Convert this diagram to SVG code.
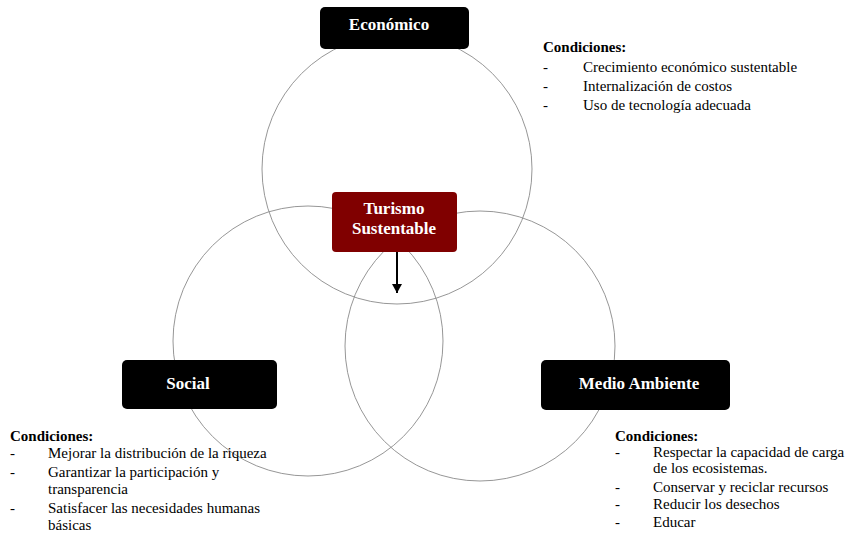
<svg xmlns="http://www.w3.org/2000/svg" width="851" height="540" viewBox="0 0 851 540">
<style>
.c{fill:none;stroke:#8a8a8a;stroke-width:0.9}
.box{fill:#000}
.tt{font-family:"Liberation Serif","Times New Roman",serif;font-weight:bold;fill:#fff;text-anchor:middle;font-size:17px}
.h{font-family:"Liberation Serif","Times New Roman",serif;font-weight:bold;fill:#000;font-size:15px}
.t{font-family:"Liberation Serif","Times New Roman",serif;fill:#000;font-size:15px}
</style>
<defs>
<marker id="ah" markerWidth="10" markerHeight="10" refX="9" refY="5" orient="auto" markerUnits="userSpaceOnUse" viewBox="0 0 10 10">
<path d="M0,0 L9,5 L0,10 Z" fill="#000"/>
</marker>
</defs>
<rect width="851" height="540" fill="#fff"/>
<g id="circles">
<circle class="c" cx="397" cy="169" r="135"/>
<circle class="c" cx="308" cy="341" r="135"/>
<circle class="c" cx="480" cy="346" r="135"/>
</g>
<g id="connectors">
<line x1="397" y1="252" x2="397" y2="293" stroke="#000" stroke-width="2" marker-end="url(#ah)"/>
</g>
<g id="economico">
<rect class="box" x="320" y="7" width="149" height="42" rx="5"/>
<text class="tt" x="389" y="30">Económico</text>
</g>
<g id="turismo">
<rect x="332" y="192" width="125" height="60" rx="4" fill="#800000"/>
<text class="tt" x="394" y="214" font-size="16">Turismo</text>
<text class="tt" x="394" y="234" font-size="16">Sustentable</text>
</g>
<g id="social">
<rect class="box" x="122" y="360" width="155" height="49" rx="5"/>
<text class="tt" x="188" y="389">Social</text>
</g>
<g id="medio">
<rect class="box" x="541" y="360" width="189" height="50" rx="5"/>
<text class="tt" x="639" y="389">Medio Ambiente</text>
</g>
<g id="cond-economico">
<text class="h" x="543" y="52">Condiciones:</text>
<text class="t" x="543" y="72">-</text><text class="t" x="583" y="72">Crecimiento económico sustentable</text>
<text class="t" x="543" y="91">-</text><text class="t" x="583" y="91">Internalización de costos</text>
<text class="t" x="543" y="110">-</text><text class="t" x="583" y="110">Uso de tecnología adecuada</text>
</g>
<g id="cond-social">
<text class="h" x="10" y="441">Condiciones:</text>
<text class="t" x="10" y="458">-</text><text class="t" x="48" y="458">Mejorar la distribución de la riqueza</text>
<text class="t" x="10" y="477">-</text><text class="t" x="48" y="477">Garantizar la participación y</text>
<text class="t" x="48" y="494">transparencia</text>
<text class="t" x="10" y="513">-</text><text class="t" x="48" y="513">Satisfacer las necesidades humanas</text>
<text class="t" x="48" y="530">básicas</text>
</g>
<g id="cond-medio">
<text class="h" x="615" y="441">Condiciones:</text>
<text class="t" x="615" y="457">-</text><text class="t" x="653" y="457">Respectar la capacidad de carga</text>
<text class="t" x="653" y="473">de los ecosistemas.</text>
<text class="t" x="615" y="492">-</text><text class="t" x="653" y="492">Conservar y reciclar recursos</text>
<text class="t" x="615" y="509">-</text><text class="t" x="653" y="509">Reducir los desechos</text>
<text class="t" x="615" y="527">-</text><text class="t" x="653" y="527">Educar</text>
</g>
</svg>
